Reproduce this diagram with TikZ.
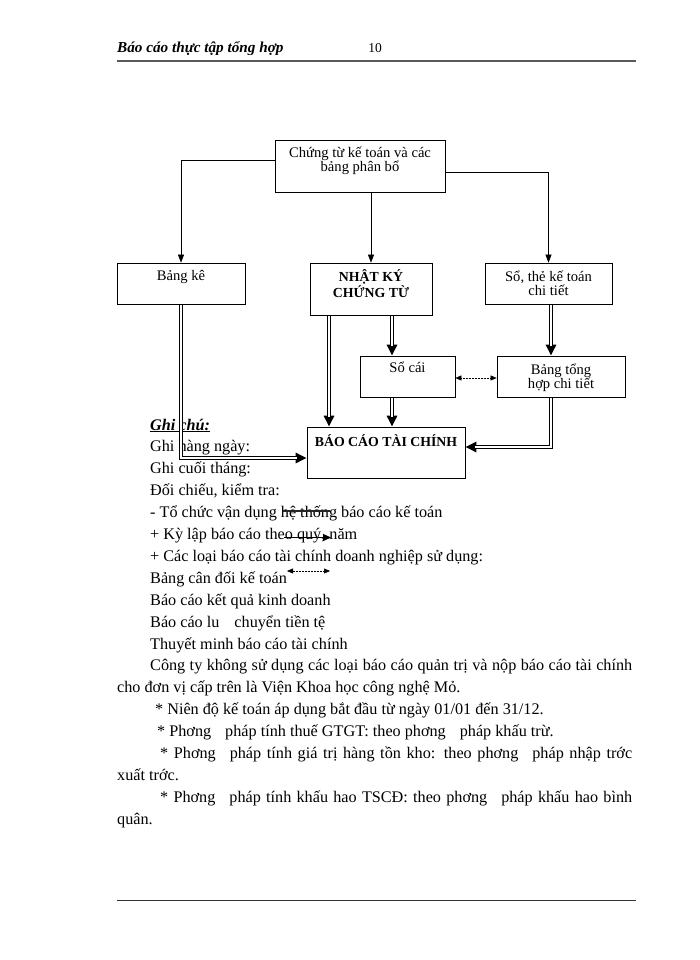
\documentclass[tikz,border=0pt]{standalone}
\usepackage{fontspec}
\setmainfont{Liberation Serif}
\usetikzlibrary{arrows.meta}
\begin{document}
\begin{tikzpicture}[x=1pt,y=-1pt,
  box/.style={draw, line width=0.7pt, inner sep=0pt},
  boxtxt/.style={inner sep=0pt, align=center, font=\fontsize{14.6}{14}\selectfont},
  capstxt/.style={inner sep=0pt, align=center, font=\fontsize{13.8}{13.5}\selectfont\bfseries},
  thinarrow/.style={line width=0.6pt, -{Triangle[length=8pt,width=6pt]}},
  dbl/.style={line width=3.4pt, line join=miter, -{Triangle[length=11pt,width=10pt]},
    postaction={draw=white, line width=1.2pt, -, shorten >=10pt, shorten <=0.6pt}},
  dotarrow/.style={line width=0.5pt, densely dotted, {Triangle[length=6pt,width=5pt]}-{Triangle[length=6pt,width=5pt]}},
  txt/.style={anchor=base west, inner sep=0pt, font=\fontsize{16.2}{20}\selectfont}
]
\useasboundingbox (0,0) rectangle (700,960);
\fill[white] (0,0) rectangle (700,960);

% header
\begin{scope}
  \clip (100,30) rectangle (360,54.6);
  \node[anchor=base west, inner sep=0pt, font=\fontsize{15.2}{18}\selectfont\bfseries\itshape] (hdr) at (117,53) {Báo cáo thực tập tổng hợp};
\end{scope}
\node[anchor=base, inner sep=0pt, font=\fontsize{13.5}{16}\selectfont] (pg) at (375,53) {10};
\draw[line width=1.8pt, black!65] (117,61) -- (636,61);
\draw[line width=0.8pt, black!80] (117,900) -- (636,900);

% boxes
\node[box, minimum width=170pt, minimum height=52pt,
  label={[boxtxt, anchor=north, yshift=-7.5pt]north:{Chứng từ kế toán và các\\bảng phân bổ}}] (top) at (360,166) {};
\node[box, minimum width=128pt, minimum height=41pt,
  label={[boxtxt, anchor=north, yshift=-7.5pt]north:{Bảng kê}}] (bk) at (181,283.5) {};
\node[box, minimum width=122pt, minimum height=52pt,
  label={[capstxt, anchor=north, yshift=-7pt]north:{NHẬT KÝ\\CHỨNG TỪ}}] (nk) at (371,289) {};
\node[box, minimum width=127pt, minimum height=41pt,
  label={[boxtxt, anchor=north, yshift=-8pt]north:{Sổ, thẻ kế toán\\chi tiết}}] (st) at (548.5,283.5) {};
\node[box, minimum width=95pt, minimum height=41pt,
  label={[boxtxt, anchor=north, yshift=-6.5pt]north:{Sổ cái}}] (sc) at (407.5,376.5) {};
\node[box, minimum width=128pt, minimum height=41pt,
  label={[boxtxt, anchor=north, yshift=-8.5pt]north:{Bảng tổng\\hợp chi tiết}}] (bt) at (561,376.5) {};
\node[box, minimum width=158pt, minimum height=51pt,
  label={[capstxt, anchor=north, yshift=-8pt]north:{BÁO CÁO TÀI CHÍNH}}] (bc) at (386,452.5) {};

% text
\node[txt] (t0) at (150,430) {\textbf{\textit{\underline{Ghi chú:}}}};
\node[txt] (t1) at (150,451.9) {Ghi hàng ngày:};
\node[txt] (t2) at (150,473.8) {Ghi cuối tháng:};
\node[txt] (t3) at (150,495.7) {Đối chiếu, kiểm tra:};
\node[txt] (t4) at (150,517.6) {- Tổ chức vận dụng hệ thống báo cáo kế toán};
\node[txt] (t5) at (150,539.5) {+ Kỳ lập báo cáo theo quý, năm};
\node[txt] (t6) at (150,561.4) {+ Các loại báo cáo tài chính doanh nghiệp sử dụng:};
\node[txt] (t7) at (150,583.3) {Bảng cân đối kế toán};
\node[txt] (t8) at (150,605.2) {Báo cáo kết quả kinh doanh};
\node[txt] (t9) at (150,627.1) {Báo cáo lu\hspace{15pt}chuyển tiền tệ};
\node[txt] (t10) at (150,649) {Thuyết minh báo cáo tài chính};
\node[txt] (t11) at (150,670.9) {\makebox[482pt][s]{Công ty không sử dụng các loại báo cáo quản trị và nộp báo cáo tài chính}};
\node[txt] (t12) at (117,692.8) {cho đơn vị cấp trên là Viện Khoa học công nghệ Mỏ.};
\node[txt] (t13) at (155,714.7) {* Niên độ kế toán áp dụng bắt đầu từ ngày 01/01 đến 31/12.};
\node[txt] (t14) at (157,736.6) {* Phơng\hspace{14pt}pháp tính thuế GTGT: theo phơng\hspace{14pt}pháp khấu trừ.};
\node[txt] (t15) at (160,758.5) {\makebox[472pt][s]{* Phơng\hspace{14pt}pháp tính giá trị hàng tồn kho: theo phơng\hspace{14pt}pháp nhập trớc}};
\node[txt] (t16) at (117,780.4) {xuất trớc.};
\node[txt] (t17) at (160,802.3) {\makebox[472pt][s]{* Phơng\hspace{14pt}pháp tính khấu hao TSCĐ: theo phơng\hspace{14pt}pháp khấu hao bình}};
\node[txt] (t18) at (117,824.2) {quân.};

% thin connectors from top box
\draw[thinarrow] ([yshift=6pt]top.west) -| (bk.north);
\draw[thinarrow] ([yshift=-6pt]top.east) -| (st.north);
\draw[thinarrow] (top.south -| nk.north) -- (nk.north);

% thick connectors
\draw[dbl] (bk.south) |- ([yshift=-5.5pt]bc.west);
\draw[dbl] ([xshift=-42pt]nk.south) -- ([xshift=-42pt]nk.south |- bc.north);
\draw[dbl] ([xshift=21pt]nk.south) -- ([xshift=21pt]nk.south |- sc.north);
\coordinate (scx) at ([xshift=21pt]nk.south);
\draw[dbl] (sc.south -| scx) -- (bc.north -| scx);
\coordinate (rx) at (551,0);
\draw[dbl] (st.south -| rx) -- (bt.north -| rx);
\draw[dbl] (bt.south -| rx) |- ([yshift=5.5pt]bc.east);
\draw[dotarrow] ([yshift=-1.5pt]sc.east) -- ([yshift=-1.5pt]bt.west);

% stray legend symbols
\coordinate (s1a) at (283,511); \coordinate (s1b) at (330,511);
\draw[line width=1.3pt, black!85] (s1a) -- (s1b);
\coordinate (s2a) at (284,537.5); \coordinate (s2b) at (331,537.5);
\draw[line width=1.4pt, -{Triangle[length=8pt,width=7pt]}] (s2a) -- (s2b);
\coordinate (s3a) at (287,571); \coordinate (s3b) at (330,571);
\draw[dotarrow] (s3a) -- (s3b);
\end{tikzpicture}
\end{document}
